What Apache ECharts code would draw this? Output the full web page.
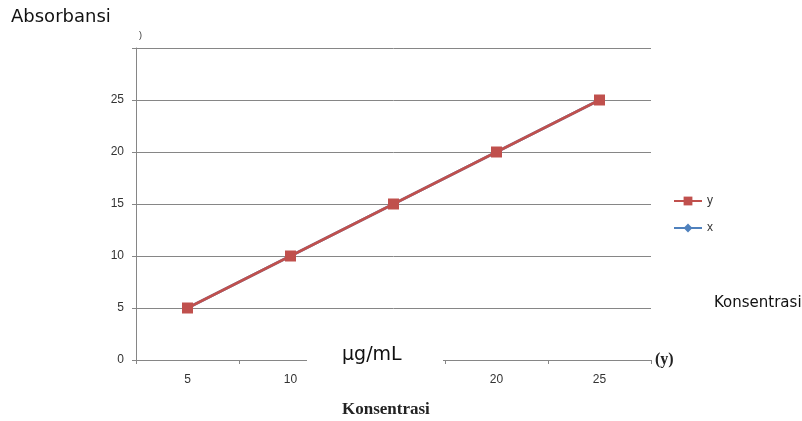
<!DOCTYPE html>
<html><head><meta charset="utf-8">
<script src="https://cdn.jsdelivr.net/npm/echarts@6/dist/echarts.min.js"></script>
<style>html,body{margin:0;padding:0;background:#fff}#c{width:802px;height:421px}</style>
</head><body><div id="c"></div>
<script>
const categories = ['5', '10', '15', '20', '25'];
const seriesY = [5, 10, 15, 20, 25];
const seriesX = [5, 10, 15, 20, 25];
const yTicks = [0, 5, 10, 15, 20, 25, 30];

const chart = echarts.init(document.getElementById('c'));
chart.setOption({
  animation: false,
  backgroundColor: '#fff',
  grid: { left: 136, right: 151, top: 48, bottom: 61 },
  legend: {
    orient: 'vertical', left: 668, top: 190, itemGap: 15,
    itemWidth: 28, itemHeight: 11,
    textStyle: { fontSize: 12, color: '#333', fontFamily: 'Liberation Sans' },
    data: ['y', 'x']
  },
  xAxis: {
    type: 'category', data: categories, boundaryGap: true,
    axisLine: { lineStyle: { color: '#868686', width: 1 } },
    axisTick: { show: true, interval: 0, length: 4, lineStyle: { color: '#868686' } },
    axisLabel: { color: '#333', fontSize: 12, margin: 14, fontFamily: 'Liberation Sans' }
  },
  yAxis: {
    type: 'value', min: 0, max: 30, interval: 5,
    axisLine: { show: true, lineStyle: { color: '#868686' } },
    axisTick: { show: true, length: 4, lineStyle: { color: '#868686' } },
    axisLabel: {
      color: '#333', fontSize: 12, margin: 12, fontFamily: 'Liberation Sans',
      formatter: v => (v === 30 ? '' : String(v))
    },
    splitLine: { show: true, lineStyle: { color: '#868686', width: 1 } }
  },
  series: [
    {
      name: 'x', type: 'line', data: seriesX, z: 2,
      symbol: 'diamond', symbolSize: 10,
      lineStyle: { color: '#4F81BD', width: 2.7 },
      itemStyle: { color: '#4F81BD' }
    },
    {
      name: 'y', type: 'line', data: seriesY, z: 3,
      symbol: 'rect', symbolSize: 11,
      lineStyle: { color: '#C0504D', width: 2.7 },
      itemStyle: { color: '#C0504D' }
    }
  ],
  graphic: [
    { type: 'text', left: 11, top: 8, style: { text: 'Absorbansi', fontSize: 18, fill: '#111', fontFamily: 'DejaVu Sans' } },
    { type: 'text', left: 139, top: 31, style: { text: ')', fontSize: 9, fill: '#333', fontFamily: 'Liberation Sans' } },
    { type: 'text', left: 714, top: 296, style: { text: 'Konsentrasi', fontSize: 15, fill: '#111', fontFamily: 'DejaVu Sans' } },
    { type: 'rect', shape: { x: 307, y: 342, width: 136, height: 50 }, style: { fill: '#fff' }, z: 100 },
    { type: 'text', left: 342, top: 346, z: 101, style: { text: 'µg/mL', fontSize: 19, fill: '#111', fontFamily: 'DejaVu Sans' } },
    { type: 'text', left: 655, top: 352, style: { text: '(y)', fontSize: 16, fontWeight: 'bold', fill: '#222', fontFamily: 'Liberation Serif' } },
    { type: 'text', left: 342, top: 401, style: { text: 'Konsentrasi', fontSize: 17, fontWeight: 'bold', fill: '#222', fontFamily: 'Liberation Serif' } }
  ]
});
</script></body></html>
